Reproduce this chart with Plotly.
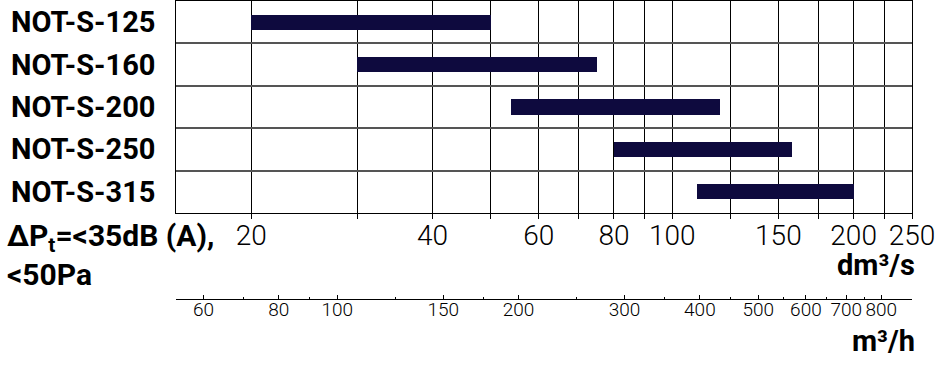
import math
import plotly.graph_objects as go

# ---- data ----
models = ["NOT-S-125", "NOT-S-160", "NOT-S-200", "NOT-S-250", "NOT-S-315"]
flow_min = [20, 30, 54, 80, 110]      # dm3/s
flow_max = [50, 75, 120, 158, 200]    # dm3/s

x_ticks = [20, 40, 60, 80, 100, 150, 200, 250]
x_minor = [30, 50, 70, 90, 125, 175, 225]
m3h_ticks = [60, 80, 100, 150, 200, 300, 400, 500, 600, 700, 800]
m3h_minor = [70, 90, 125, 175, 250, 350, 450, 550, 650, 750]
x_range = [15, 250]           # dm3/s
DM3S_TO_M3H = 3.6

BAR_COLOR = "#0e0a3e"
FONT = "Roboto"

fig = go.Figure()
fig.add_trace(go.Bar(
    y=models,
    base=flow_min,
    x=[b - a for a, b in zip(flow_min, flow_max)],
    orientation="h",
    width=0.36,
    marker=dict(color=BAR_COLOR, line=dict(width=0)),
    hoverinfo="skip",
    showlegend=False,
))
# same ranges expressed in m3/h on the secondary axis (invisible, keeps the axis alive)
fig.add_trace(go.Scatter(
    x=[v * DM3S_TO_M3H for v in flow_max],
    y=models,
    xaxis="x2", yaxis="y",
    mode="markers", marker=dict(opacity=0),
    hoverinfo="skip", showlegend=False,
))

annotations = []
for m in models:
    annotations.append(dict(
        x=-0.2269, xref="paper", y=m, yref="y", text="<b>%s</b>" % m,
        showarrow=False, xanchor="left", yanchor="middle",
        font=dict(family=FONT, size=29, color="black"),
    ))
annotations.append(dict(
    x=-0.2323, xref="paper", y=0.148, yref="paper",
    text="<b>ΔP<sub>t</sub>=&lt;35dB (A),<br>&lt;50Pa</b>",
    showarrow=False, xanchor="left", yanchor="middle", align="left",
    font=dict(family=FONT, size=30, color="black"),
))
annotations.append(dict(
    x=1.0068, xref="paper", y=0.114, yref="paper",
    text="<b>dm³/s</b>",
    showarrow=False, xanchor="right", yanchor="middle",
    font=dict(family=FONT, size=29, color="black"),
))
annotations.append(dict(
    x=1.0068, xref="paper", y=-0.142, yref="paper",
    text="<b>m³/h</b>",
    showarrow=False, xanchor="right", yanchor="middle",
    font=dict(family=FONT, size=29, color="black"),
))

fig.update_layout(
    width=937, height=365,
    margin=dict(l=176, r=25, t=1, b=66),
    paper_bgcolor="white", plot_bgcolor="white",
    bargap=0,
    annotations=annotations,
    xaxis=dict(
        type="log",
        range=[math.log10(x_range[0]), math.log10(x_range[1])],
        tickmode="array", tickvals=x_ticks, ticktext=[str(v) for v in x_ticks],
        ticks="outside", ticklen=5, tickcolor="black", tickwidth=1,
        ticklabelstandoff=-8,
        showgrid=True, gridcolor="black", gridwidth=1,
        minor=dict(tickmode="array", tickvals=x_minor, showgrid=True,
                   gridcolor="black", gridwidth=1, ticks="outside",
                   ticklen=5, tickcolor="black"),
        showline=True, linecolor="black", linewidth=1, mirror=True,
        tickfont=dict(family=FONT, size=28, color="black", weight=300),
        tickangle=0, zeroline=False,
    ),
    xaxis2=dict(
        type="log", overlaying="x", anchor="free", position=0, side="bottom",
        range=[math.log10(x_range[0] * DM3S_TO_M3H), math.log10(x_range[1] * DM3S_TO_M3H)],
        tickmode="array", tickvals=m3h_ticks, ticktext=[str(v) for v in m3h_ticks],
        ticks="inside", ticklen=4, tickcolor="black", tickwidth=1,
        ticklabelstandoff=-7,
        minor=dict(tickmode="array", tickvals=m3h_minor, ticks="inside",
                   ticklen=2, tickcolor="black", showgrid=False),
        showgrid=False, showline=True, linecolor="black", linewidth=1,
        tickfont=dict(family=FONT, size=19, color="black", weight=300),
        tickangle=0, zeroline=False,
    ),
    yaxis=dict(
        domain=[0.2886, 1],
        type="category", autorange="reversed", tickson="boundaries",
        showgrid=True, gridcolor="#555555", gridwidth=1.5,
        showticklabels=False, ticks="",
        showline=True, linecolor="black", linewidth=1, mirror=True,
        zeroline=False,
    ),
)

fig.write_html("out.html")
